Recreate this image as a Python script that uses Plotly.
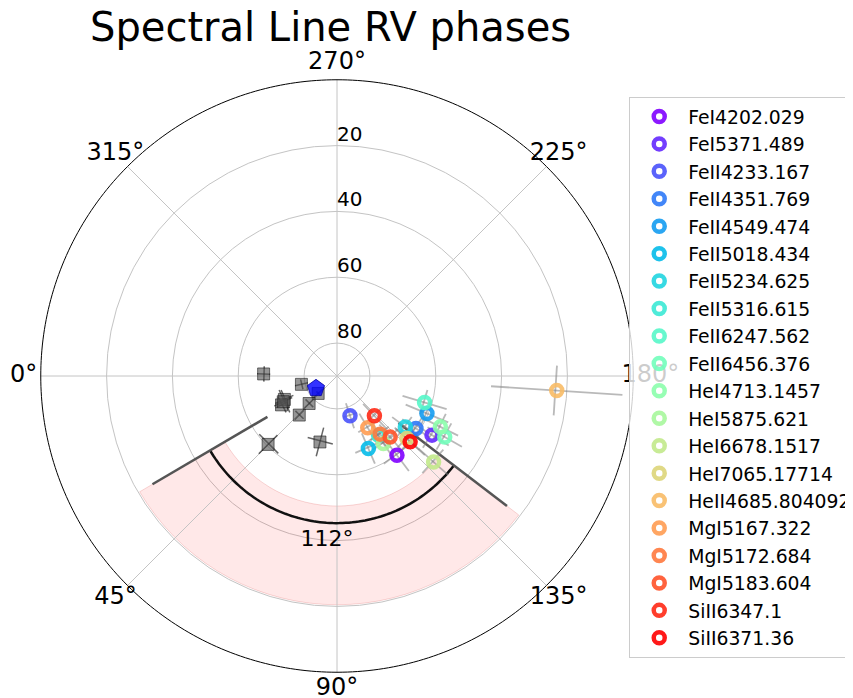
import numpy as np
import plotly.graph_objects as go

# Spectral lines: RV phase (deg) and radial value
LINE_NAMES = [
    "FeI4202.029", "FeI5371.489", "FeII4233.167", "FeII4351.769", "FeII4549.474",
    "FeII5018.434", "FeII5234.625", "FeII5316.615", "FeII6247.562", "FeII6456.376",
    "HeI4713.1457", "HeI5875.621", "HeI6678.1517", "HeI7065.17714", "HeII4685.804092",
    "MgI5167.322", "MgI5172.684", "MgI5183.604", "SiII6347.1", "SiII6371.36",
]
LINE_PHASE = [127.1, 148.1, 108.1, 146.4, 157.4, 113.4, 143.3, 125.0, 163.2, 150.5,
              153.8, 124.5, 138.3, 138.2, 176.2, 120.7, 126.6, 131.0, 133.2, 138.0]
LINE_R = [59.8, 56.0, 77.3, 61.2, 60.4, 66.0, 64.1, 68.0, 62.2, 52.4,
          55.0, 65.1, 50.7, 61.5, 23.1, 71.7, 68.0, 65.4, 73.4, 60.1]
LINE_PHASE_ERR = [9, 8, 10, 8, 8, 10, 8, 9, 8, 7, 7, 9, 7, 8, 6.5, 10, 9, 8, 10, 8]
LINE_R_ERR = [6, 6, 4, 5, 7, 5, 5, 5, 7, 6, 6, 5, 6, 5, 20, 5, 5, 5, 5, 6]

# Reference (grey square) measurements
REF_PHASE = [358.4, 13.2, 42.8, 24.0, 27.5, 25.6, 44.6, 46.0, 44.8, 75.5]
REF_R = [67.7, 78.9, 82.2, 72.5, 71.0, 71.9, 78.1, 73.5, 60.5, 69.3]
REF_PHASE_ERR = [6, 8, 6, 10, 8, 12, 8, 6, 8, 11]
REF_R_ERR = [2, 2, 2, 3, 2, 3, 2, 2, 4, 4.5]

# Mean phase marker
MEAN_PHASE = [30.4]
MEAN_R = [82.6]

# Phase spread indicator
SPREAD_START = 30.4
SPREAD_END = 142.6
SPREAD_LABEL = "112°"
BAND_R = [20.5, 50.5]

ANGLE_TICKS = [0, 45, 90, 135, 180, 225, 270, 315]
ANGLE_LABELS = [f"{a}°" for a in ANGLE_TICKS]
RADIAL_TICKS = [20, 40, 60, 80]
RADIAL_LABELS = [str(v) for v in RADIAL_TICKS]

R_MAX = 90
R_RIM = 0
R_PAD = -6.0     # extra room beyond the rim for the angle labels
LABEL_R = -5.2
GRID = "#c4c4c4"
FONT = "DejaVu Sans, sans-serif"


def rainbow(x):
    r = min(1.0, abs(2 * x - 0.5))
    g = np.sin(np.pi * x)
    b = np.cos(np.pi * x / 2)
    return f"rgb({int(r*255)},{int(g*255)},{int(b*255)})"


def errorbar_path(phase, r, phase_err, r_err):
    th, rr = [], []
    for p, v, ep, er in zip(phase, r, phase_err, r_err):
        th += [p, p, None, p - ep, p + ep, None]
        rr += [v - er, v + er, None, v, v, None]
    return th, rr


fig = go.Figure()

# spokes and rim (axis frame stops at r = 0)
spoke_th, spoke_r = [], []
for a in ANGLE_TICKS:
    spoke_th += [a, a, None]
    spoke_r += [R_MAX, R_RIM, None]
fig.add_trace(go.Scatterpolar(
    theta=spoke_th, r=spoke_r, mode="lines", line=dict(color=GRID, width=1),
    showlegend=False, hoverinfo="skip",
))
rim_theta = np.linspace(0, 360, 361)
fig.add_trace(go.Scatterpolar(
    theta=rim_theta, r=[R_RIM] * len(rim_theta), mode="lines",
    line=dict(color="black", width=1), showlegend=False, hoverinfo="skip",
))

# angular tick labels
fig.add_trace(go.Scatterpolar(
    theta=ANGLE_TICKS, r=[LABEL_R] * len(ANGLE_TICKS), mode="text", text=ANGLE_LABELS,
    textfont=dict(size=24, color="black", family=FONT), cliponaxis=False,
    showlegend=False, hoverinfo="skip",
))
# radial tick labels
fig.add_trace(go.Scatterpolar(
    theta=[270] * len(RADIAL_TICKS), r=RADIAL_TICKS, mode="text", text=RADIAL_LABELS,
    textposition="top right", textfont=dict(size=20, color="black", family=FONT),
    showlegend=False, hoverinfo="skip",
))

# shaded band
fig.add_trace(go.Barpolar(
    theta=[(SPREAD_START + SPREAD_END) / 2], r=[BAND_R[1] - BAND_R[0]], base=[BAND_R[0]],
    width=[SPREAD_END - SPREAD_START],
    marker=dict(color="rgba(255,0,0,0.09)", line=dict(color="rgba(200,0,0,0.15)", width=1)),
    showlegend=False, hoverinfo="skip",
))

# arc + edges
arc_theta = np.linspace(SPREAD_START, SPREAD_END, 90)
fig.add_trace(go.Scatterpolar(
    theta=arc_theta, r=[45.3] * len(arc_theta), mode="lines",
    line=dict(color="#111111", width=2.5), showlegend=False, hoverinfo="skip",
))
fig.add_trace(go.Scatterpolar(
    theta=[SPREAD_START, SPREAD_START, None, SPREAD_END, SPREAD_END],
    r=[65.5, 25, None, 66.5, 25], mode="lines",
    line=dict(color="#555555", width=2.5), showlegend=False, hoverinfo="skip",
))
fig.add_trace(go.Scatterpolar(
    theta=[(SPREAD_START + SPREAD_END) / 2], r=[40], mode="text", text=[SPREAD_LABEL],
    textfont=dict(size=22, color="black", family=FONT), showlegend=False, hoverinfo="skip",
))

# reference points
th, rr = errorbar_path(REF_PHASE, REF_R, REF_PHASE_ERR, REF_R_ERR)
fig.add_trace(go.Scatterpolar(
    theta=th, r=rr, mode="lines", line=dict(color="rgba(0,0,0,0.6)", width=1.5),
    showlegend=False, hoverinfo="skip",
))
fig.add_trace(go.Scatterpolar(
    theta=REF_PHASE, r=REF_R, mode="markers",
    marker=dict(symbol="square", size=12, color="rgba(80,80,80,0.6)",
                line=dict(color="rgba(0,0,0,0.5)", width=1)),
    showlegend=False,
))
fig.add_trace(go.Scatterpolar(
    theta=MEAN_PHASE, r=MEAN_R, mode="markers",
    marker=dict(symbol="pentagon", size=18, color="rgba(0,0,255,0.8)",
                line=dict(color="rgba(0,0,160,0.8)", width=1)),
    showlegend=False,
))

# spectral line error bars
th, rr = errorbar_path(LINE_PHASE, LINE_R, LINE_PHASE_ERR, LINE_R_ERR)
fig.add_trace(go.Scatterpolar(
    theta=th, r=rr, mode="lines", line=dict(color="rgba(128,128,128,0.55)", width=1.8),
    showlegend=False, hoverinfo="skip",
))

n = len(LINE_NAMES)
for i, name in enumerate(LINE_NAMES):
    fig.add_trace(go.Scatterpolar(
        theta=[LINE_PHASE[i]], r=[LINE_R[i]], mode="markers", name=name,
        marker=dict(symbol="circle-open", size=11, opacity=0.9,
                    color=rainbow(i / (n - 1)), line=dict(width=4.5)),
    ))

fig.update_layout(
    width=853, height=698,
    paper_bgcolor="white",
    font=dict(family=FONT, color="black"),
    margin=dict(l=13.3, r=208.3, t=52.3, b=14.3, autoexpand=False),
    title=dict(text="Spectral Line RV phases", x=82 / 853, xanchor="left", xref="container",
               y=1 - 19 / 698, yanchor="middle", yref="container",
               font=dict(size=40, family=FONT, color="black")),
    polar=dict(
        domain=dict(x=[0, 1], y=[0, 1]),
        bgcolor="rgba(0,0,0,0)",
        angularaxis=dict(rotation=180, direction="counterclockwise", tickmode="array",
                         tickvals=ANGLE_TICKS, showticklabels=False, showline=False,
                         showgrid=False, ticks=""),
        radialaxis=dict(range=[R_MAX, R_PAD], tickvals=RADIAL_TICKS, showticklabels=False,
                        showline=False, ticks="", gridcolor=GRID),
    ),
    legend=dict(x=0.9624, xanchor="left", y=0.9419, yanchor="top",
                bgcolor="rgba(255,255,255,0.8)", bordercolor="#cccccc", borderwidth=1,
                font=dict(size=18.8, family=FONT), itemwidth=48),
)

fig.write_html("out.html")
